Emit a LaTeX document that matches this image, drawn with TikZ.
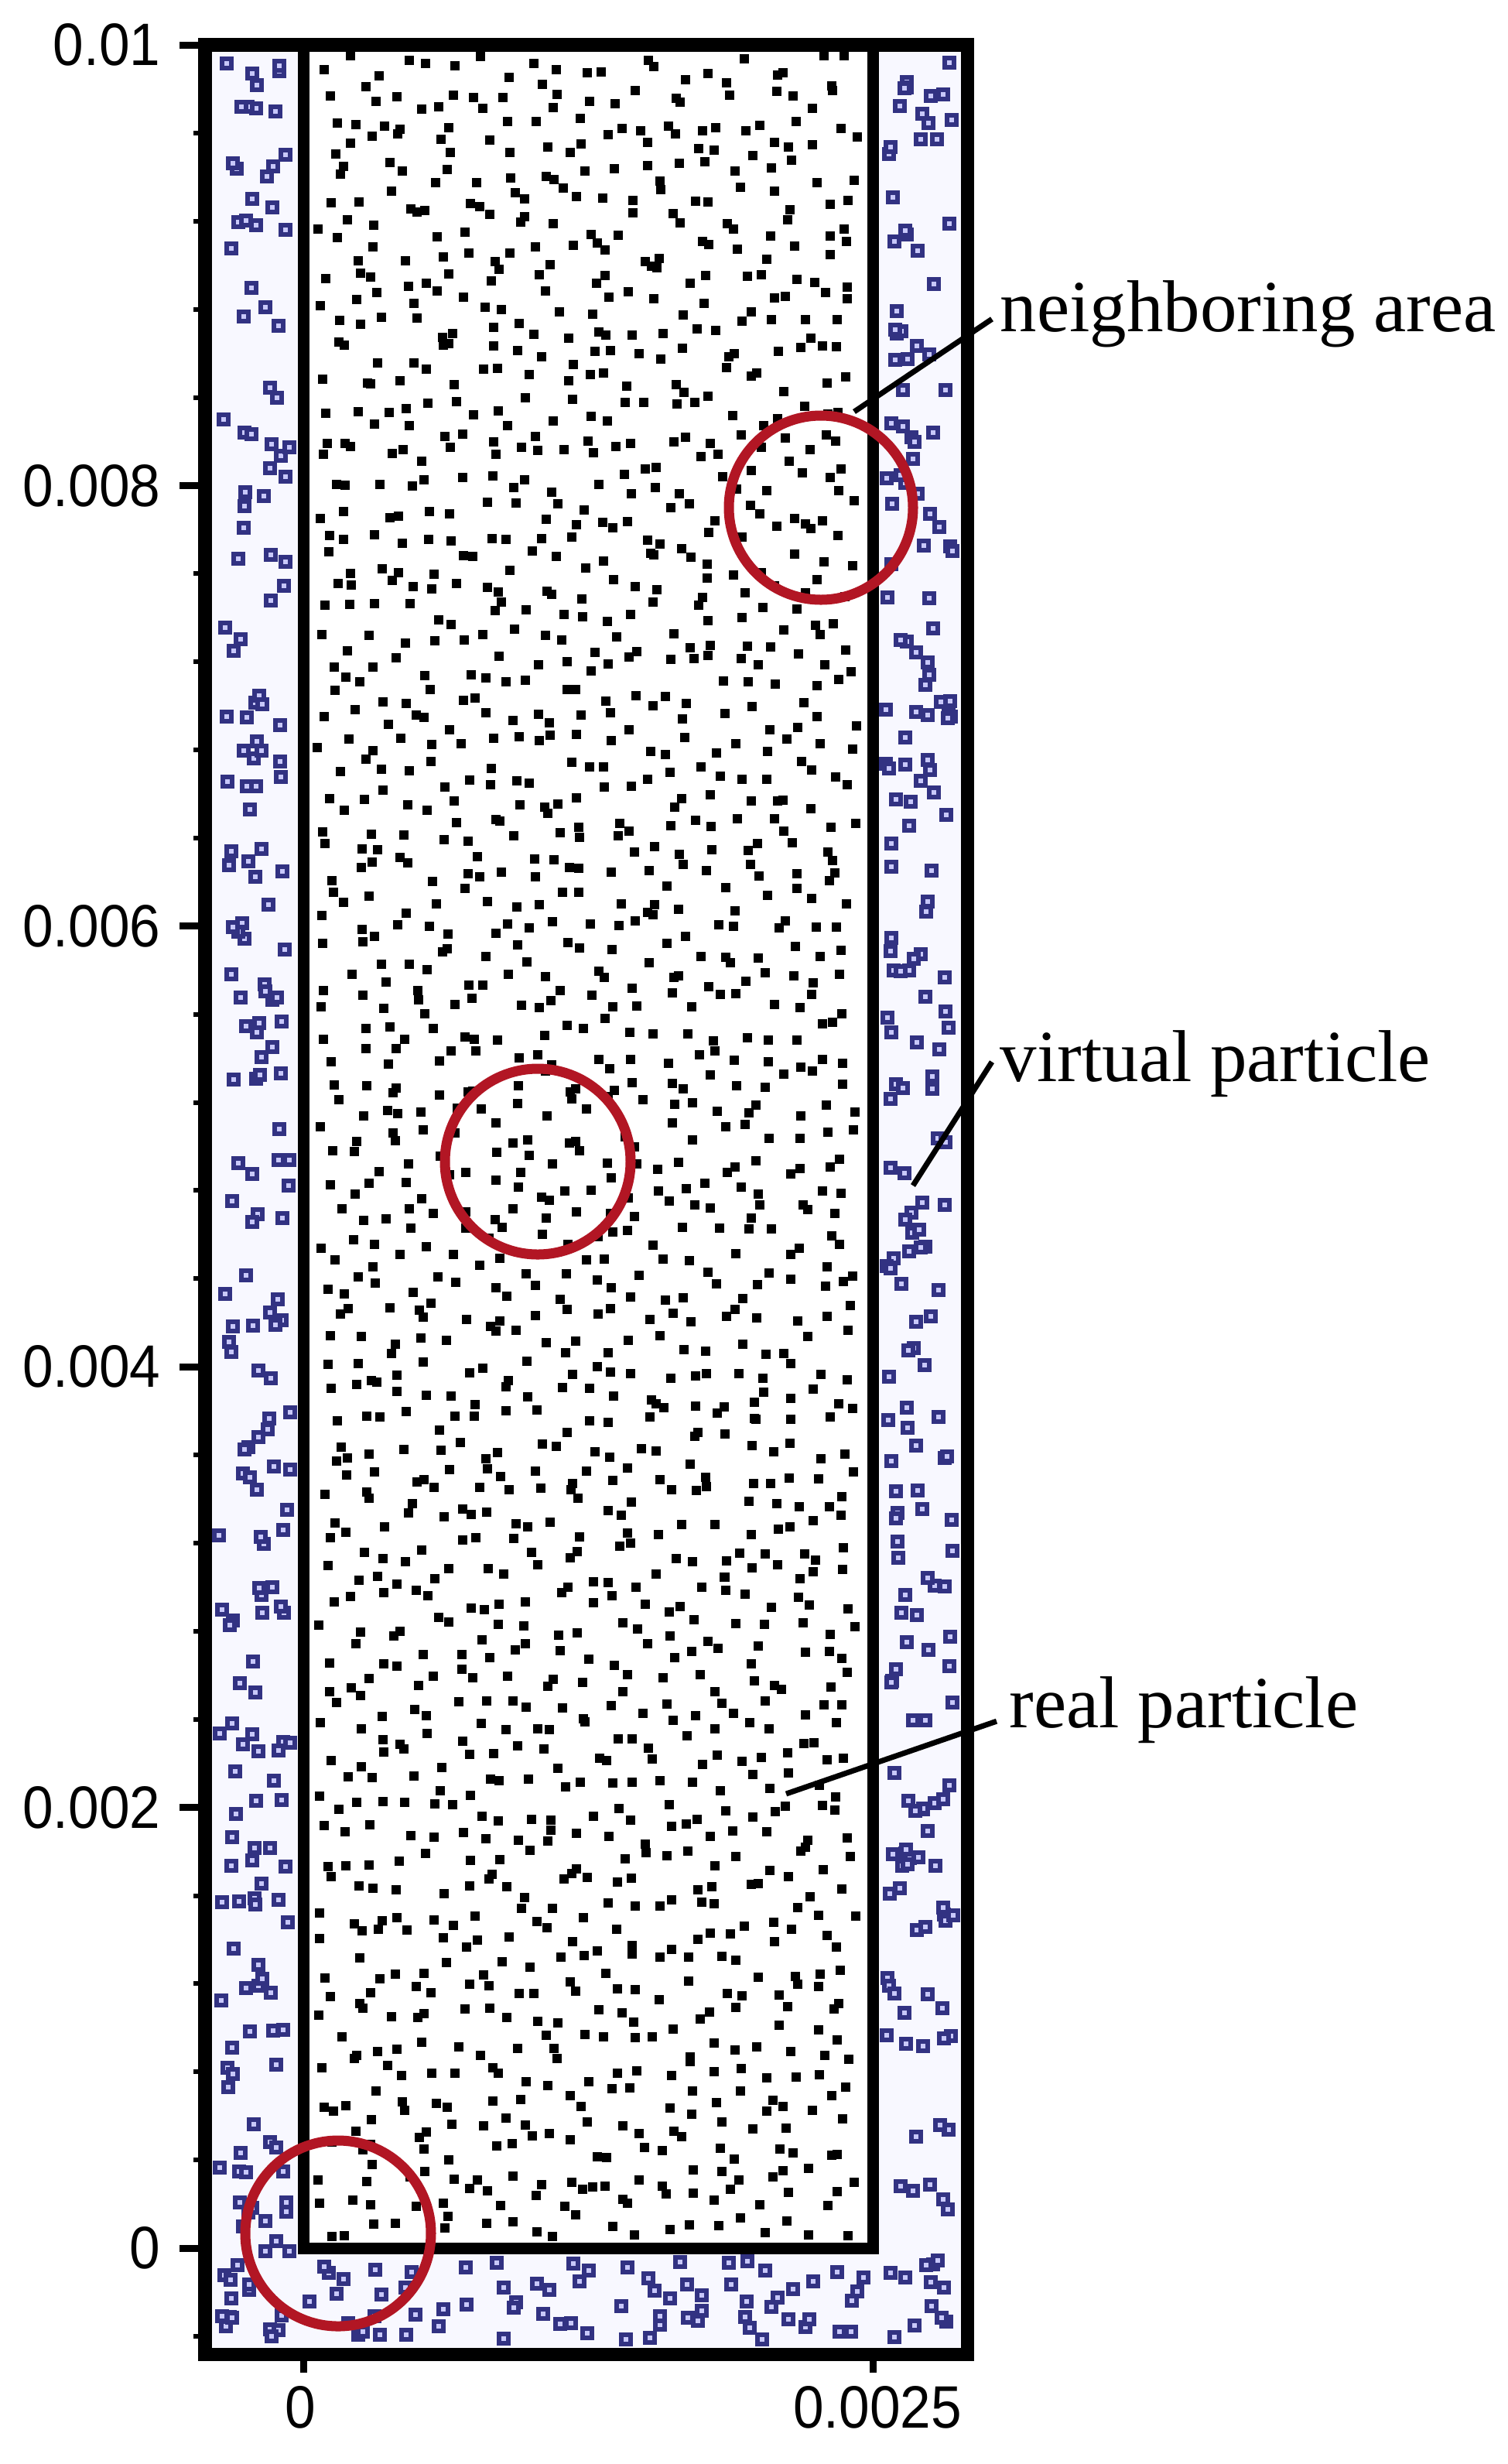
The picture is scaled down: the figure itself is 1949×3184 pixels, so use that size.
\documentclass[tikz,border=0pt]{standalone}
\usepackage{fontspec}
\setmainfont{Liberation Serif}
\newfontfamily\axisfont{Liberation Sans}
\definecolor{bandbg}{RGB}{248,248,255}
\definecolor{vblue}{RGB}{50,50,130}
\definecolor{vcenter}{RGB}{200,200,250}
\definecolor{ringred}{RGB}{178,22,36}
\tikzset{
  frameline/.style={line width=0.17cm, line join=miter},
  wallline/.style={line width=0.15cm, line join=miter},
  ring/.style={draw=ringred, line width=0.13cm},
  leader/.style={line width=0.07cm},
  majtick/.style={line width=0.09cm},
  mintick/.style={line width=0.06cm},
  vpart/.style={draw=vblue, fill=vcenter, line width=0.06cm},
  rpart/.style={fill=black},
  axislabel/.style={font=\axisfont\fontsize{22}{26}\selectfont, inner sep=0pt, xscale=0.92},
  callout/.style={font=\fontsize{27}{32}\selectfont, inner sep=0pt, anchor=base west},
}
\begin{document}
\begin{tikzpicture}[x=0.01cm, y=-0.01cm]
\useasboundingbox (0,0) rectangle (1949,3184);
\fill[white] (0,0) rectangle (1949,3184);
\fill[bandbg] (265,58) rectangle (1250,3042);
\fill[white] (392,58) rectangle (1128,2905);
\pgfmathsetseed{4242}
% real particles
\foreach \r in {0,...,83}{
  \foreach \c in {0,...,20}{
    \pgfmathsetmacro\px{404+\c*33.3+rnd*32.3}
    \pgfmathsetmacro\py{66+\r*33.6+rnd*32.6}
    \fill[rpart] (\px,\py) rectangle ++(12,12);
  }
}
% virtual particles
\foreach \i in {1,...,215}{
  \pgfmathsetmacro\px{283+rnd*92}
  \pgfmathsetmacro\py{74+rnd*2950}
  \draw[vpart] (\px-6,\py-6) rectangle ++(12,12);
}
\foreach \i in {1,...,215}{
  \pgfmathsetmacro\px{1145+rnd*87}
  \pgfmathsetmacro\py{74+rnd*2950}
  \draw[vpart] (\px-6,\py-6) rectangle ++(12,12);
}
\foreach \i in {1,...,70}{
  \pgfmathsetmacro\px{385+rnd*750}
  \pgfmathsetmacro\py{2922+rnd*102}
  \draw[vpart] (\px-6,\py-6) rectangle ++(12,12);
}
% walls and frame
\draw[wallline] (392,58) -- (392,2905) -- (1128,2905) -- (1128,58);
\draw[frameline] (265,58) rectangle (1250,3042);
% ticks
\foreach \k in {-1,...,25}{
  \pgfmathsetmacro\yy{2905-\k*113.88}
  \draw[mintick] (250,\yy) -- (265,\yy);
}
\foreach \v/\t in {0/0, 2/0.002, 4/0.004, 6/0.006, 8/0.008, 10/0.01}{
  \pgfmathsetmacro\yy{2905-\v*284.7}
  \draw[majtick] (232,\yy) -- (265,\yy);
  \node[axislabel, anchor=east] (yl\v) at (208,\yy) {\t};
}
\draw[majtick] (392,3042) -- (392,3066);
\draw[majtick] (1128,3042) -- (1128,3066);
\node[axislabel] (xl0) at (388,3111) {0};
\node[axislabel] (xl1) at (1134,3111) {0.0025};
% neighbouring circles
\draw[ring] (1061,656) circle[radius=119];
\draw[ring] (695,1501) circle[radius=120];
\draw[ring] (437,2886) circle[radius=120];
% callouts
\node[callout] (lna) at (1292,428) {neighboring area};
\node[callout] (lvp) at (1292,1397) {virtual particle};
\node[callout] (lrp) at (1304,2232) {real particle};
\coordinate (pa) at (1104,532);
\coordinate (pv) at (1180,1532);
\coordinate (pr) at (1016,2318);
\draw[leader] (pa) -- ([shift={(-10,7)}]lna.west);
\draw[leader] (pv) -- ([shift={(-10,-2)}]lvp.west);
\draw[leader] (pr) -- ([shift={(-16,15)}]lrp.west);
\end{tikzpicture}
\end{document}
